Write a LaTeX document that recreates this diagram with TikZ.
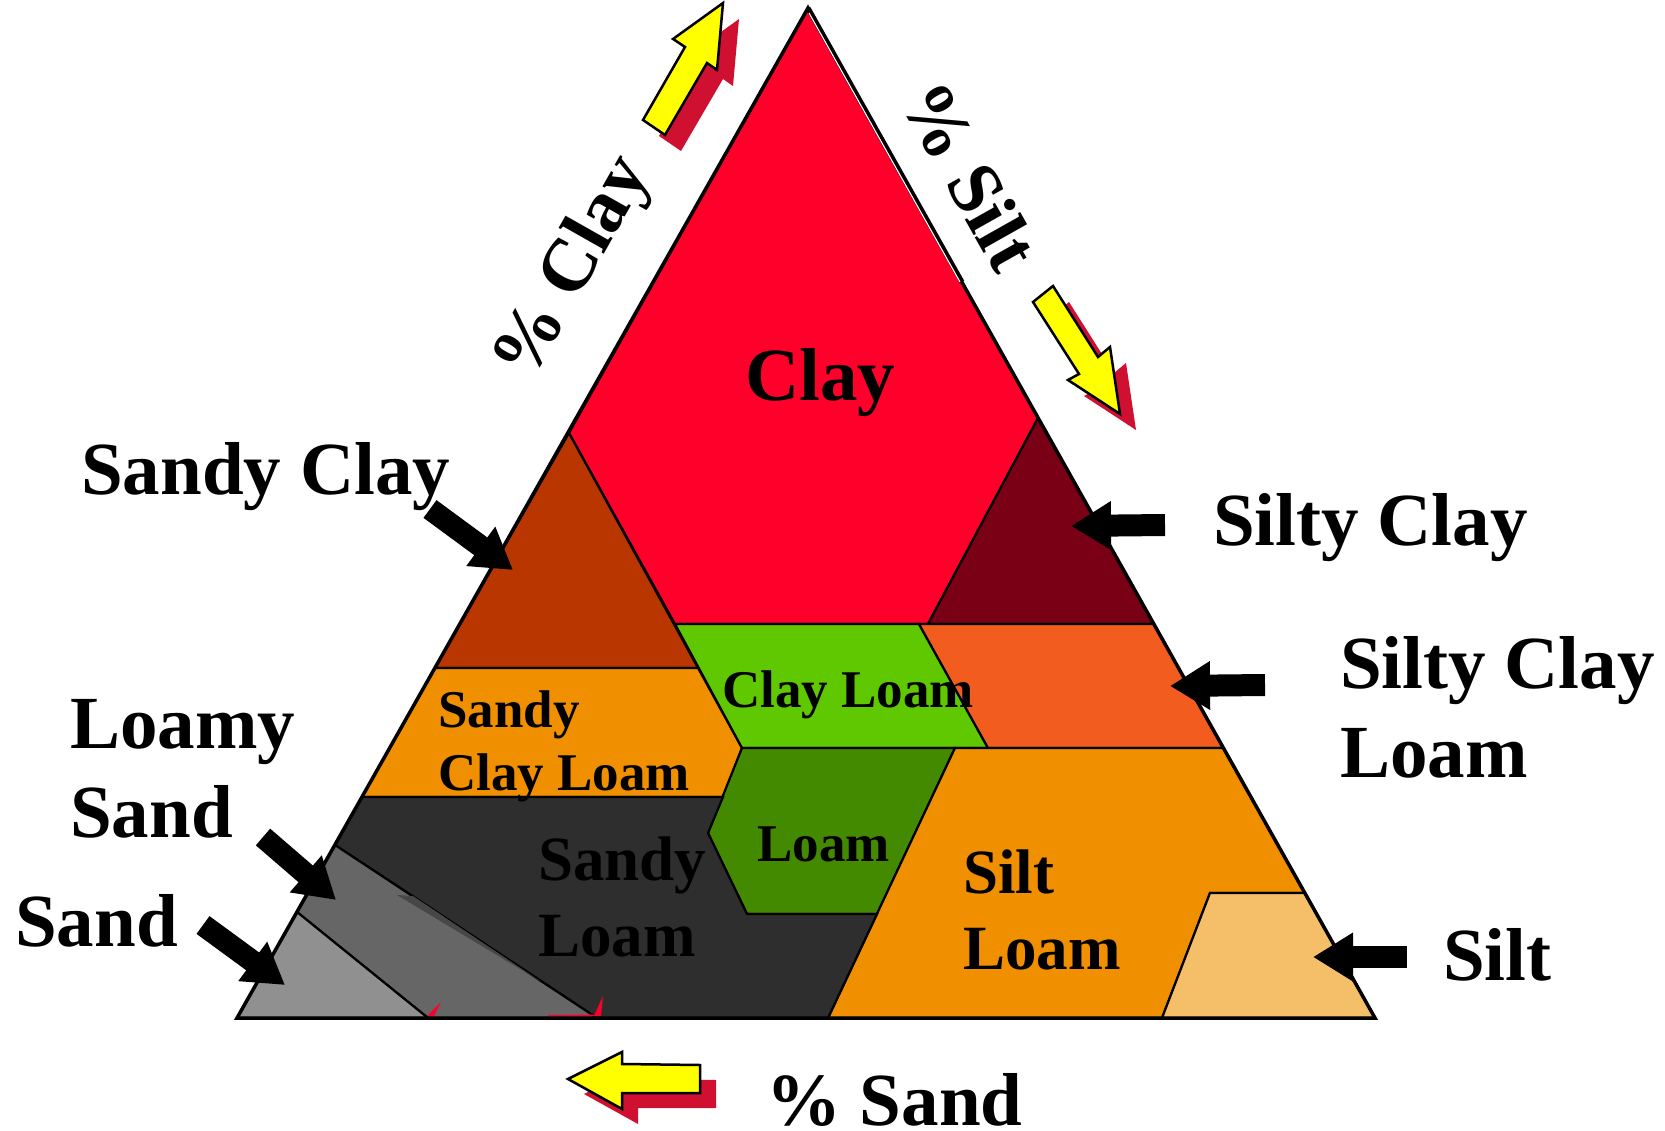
\documentclass[tikz,border=0pt]{standalone}
\usepackage{fontspec}
\setmainfont{Liberation Serif}
\usetikzlibrary{arrows.meta}

\definecolor{clayred}{HTML}{FF002A}
\definecolor{sandyclaybrown}{HTML}{BA3600}
\definecolor{loamorange}{HTML}{F09000}
\definecolor{siltyclaydark}{HTML}{7A0016}
\definecolor{siltyclayloam}{HTML}{F25C1E}
\definecolor{clayloamgreen}{HTML}{60C800}
\definecolor{loamgreen}{HTML}{448A00}
\definecolor{sandyloamgray}{HTML}{2E2E2E}
\definecolor{loamysandgray}{HTML}{666666}
\definecolor{sandgray}{HTML}{909090}
\definecolor{siltbeige}{HTML}{F5BF6A}
\definecolor{arrowyellow}{HTML}{FFFF00}
\definecolor{shadowred}{HTML}{D01030}
\definecolor{wedgegray}{HTML}{474747}

% two stacked lines whose baseline is the first line
\newcommand{\twoline}[2]{\vtop{\hbox{#1}\hbox{#2}}}

\tikzset{
  region/.style={draw=black, line width=2.2pt, line join=miter},
  labelbig/.style={font=\bfseries\fontsize{75}{89}\selectfont, inner sep=0pt},
  labelmid/.style={font=\bfseries\fontsize{63}{76}\selectfont, inner sep=0pt},
  labelsmall/.style={font=\bfseries\fontsize{53}{63}\selectfont, inner sep=0pt},
  pointer/.style={line width=22pt, line cap=butt, draw=black,
    -{Triangle[length=40pt,width=46pt]}},
  flowarrow/.style={fill=arrowyellow, draw=black, line width=2.5pt, line join=miter},
  flowshadow/.style={fill=shadowred},
  clayflow/.style={insert path={(723,3) -- (717,70) -- (707,63) -- (665,135)
    -- (643,120) -- (685,47) -- (673,39) -- cycle}},
  siltflow/.style={insert path={(1033,302) -- (1053,286) -- (1098,357) -- (1110,347)
    -- (1120,414) -- (1068,380) -- (1079,374) -- cycle}},
  sandflow/.style={insert path={(568,1079) -- (622,1052) -- (622,1064) -- (700,1065)
    -- (700,1093) -- (622,1093) -- (622,1109) -- cycle}},
}

\begin{document}
\begin{tikzpicture}[x=1pt, y=-1pt]
\useasboundingbox (0,0) rectangle (1665,1131);
\fill[white] (0,0) rectangle (1665,1131);

% ---- texture classes ----
\filldraw[region, fill=clayred] (808,8) -- (1038,418) -- (928,624) -- (675,624) -- (569,433) -- cycle;
\filldraw[region, fill=sandyclaybrown] (569,433) -- (698,668) -- (435,668) -- cycle;
\filldraw[region, fill=loamorange] (435,668) -- (698,668) -- (742,748) -- (723,797) -- (362,797) -- cycle;
\filldraw[region, fill=siltyclaydark] (1038,418) -- (1154,624) -- (928,624) -- cycle;
\filldraw[region, fill=clayloamgreen] (675,624) -- (919,624) -- (988,748) -- (742,748) -- cycle;
\filldraw[region, fill=siltyclayloam] (919,624) -- (1154,624) -- (1223,748) -- (988,748) -- cycle;
\filldraw[region, fill=loamgreen] (742,748) -- (955,748) -- (877,914) -- (747,914) -- (708,833) -- cycle;
\filldraw[region, fill=loamorange] (955,748) -- (1223,748) -- (1305,893) -- (1210,893) -- (1162,1018) -- (828,1018) -- cycle;
\filldraw[region, fill=siltbeige] (1210,893) -- (1305,893) -- (1375,1018) -- (1162,1018) -- cycle;
\filldraw[region, fill=sandyloamgray] (362,797) -- (723,797) -- (708,833) -- (747,914) -- (877,914) -- (828,1018) -- (597,1018) -- (335,845) -- cycle;
\filldraw[region, fill=loamysandgray] (335,845) -- (597,1018) -- (428,1018) -- (297,912) -- cycle;
\filldraw[region, fill=sandgray] (297,912) -- (428,1018) -- (237,1018) -- cycle;

% shading sliver and small red ticks along the sand boundaries
\fill[wedgegray] (397,895) -- (413,896) -- (540,981) -- cycle;
\fill[clayred] (427,1016) -- (441,1002) -- (434,1016) -- cycle;
\fill[clayred] (594,1016) -- (603,996) -- (601,1016) -- cycle;
\fill[clayred] (548,1015) -- (594,1014.5) -- (594,1016.5) -- (548,1016.5) -- cycle;

% ---- outer triangle ----
\draw[line width=3.5pt, line join=miter] (808,8) -- (1375,1018) -- (237,1018) -- cycle;
\draw[line width=5pt] (808,8) -- (962,282);
\draw[white, line width=1.1pt] (809,13) -- (960,282);

% ---- axis arrows with shadows ----
\fill[flowshadow, shift={(16,16)}, clayflow];
\draw[flowarrow, clayflow];
\fill[flowshadow, shift={(16,16)}, siltflow];
\draw[flowarrow, siltflow];
\fill[flowshadow, shift={(16,15)}, sandflow];
\draw[flowarrow, sandflow];

% ---- axis labels ----
\node[labelbig, rotate=60.5] (axClay) at (575,269) {\% Clay};
\node[labelbig, rotate=-60.6] (axSilt) at (970,176) {\% Silt};
\node[labelbig, anchor=base west] (axSand) at (766,1125) {\% Sand};

% ---- labels inside the triangle ----
\node[labelbig, anchor=base west] (inClay) at (745,400) {Clay};
\node[labelsmall, anchor=base west] (inSandyClayLoam) at (438,727) {\twoline{Sandy}{Clay Loam}};
\node[labelsmall, anchor=base west] (inClayLoam) at (722,707) {Clay Loam};
\node[labelsmall, anchor=base west] (inLoam) at (757,861) {Loam};
\node[labelmid, anchor=base west] (inSandyLoam) at (538,880) {\twoline{Sandy}{Loam}};
\node[labelmid, anchor=base west] (inSiltLoam) at (963,893) {\twoline{Silt}{Loam}};

% ---- labels outside with pointers ----
\node[labelbig, anchor=base west] (outSandyClay) at (81,494) {Sandy Clay};
\node[labelbig, anchor=base west] (outSiltyClay) at (1213,545) {Silty Clay};
\node[labelbig, anchor=base west] (outSiltyClayLoam) at (1340,688) {\twoline{Silty Clay}{Loam}};
\node[labelbig, anchor=base west] (outLoamySand) at (70,748) {\twoline{Loamy}{Sand}};
\node[labelbig, anchor=base west] (outSand) at (15,946) {Sand};
\node[labelbig, anchor=base west] (outSilt) at (1443,980) {Silt};

\coordinate (tSandyClay) at (430,509);     \coordinate (hSandyClay) at (513,570);
\coordinate (tSiltyClay) at (1165,525);    \coordinate (hSiltyClay) at (1071,526);
\coordinate (tSiltyClayLoam) at (1265,685); \coordinate (hSiltyClayLoam) at (1170,686);
\coordinate (tLoamySand) at (263,837);     \coordinate (hLoamySand) at (336,900);
\coordinate (tSand) at (203,925);          \coordinate (hSand) at (285,985);
\coordinate (tSilt) at (1407,957);         \coordinate (hSilt) at (1313,957);

\draw[pointer] (tSandyClay) -- (hSandyClay);
\draw[pointer] (tSiltyClay) -- (hSiltyClay);
\draw[pointer] (tSiltyClayLoam) -- (hSiltyClayLoam);
\draw[pointer] (tLoamySand) -- (hLoamySand);
\draw[pointer] (tSand) -- (hSand);
\draw[pointer] (tSilt) -- (hSilt);
\end{tikzpicture}
\end{document}
